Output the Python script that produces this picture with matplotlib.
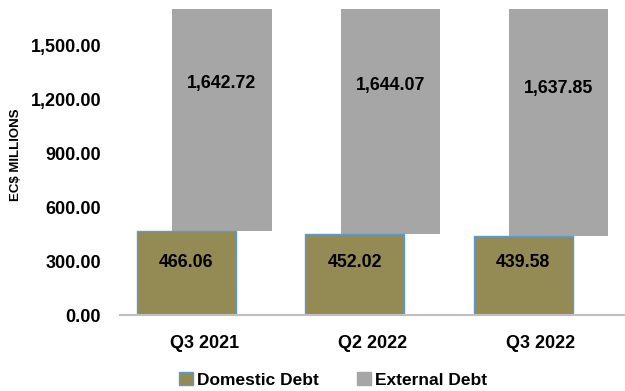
import matplotlib
matplotlib.use("Agg")
import matplotlib.pyplot as plt
import numpy as np
from matplotlib.patches import Patch

plt.rcParams["font.family"] = ["Liberation Sans", "DejaVu Sans"]
plt.rcParams["font.weight"] = "bold"

quarters = ["Q3 2021", "Q2 2022", "Q3 2022"]
domestic_debt = [466.06, 452.02, 439.58]
external_debt = [1642.72, 1644.07, 1637.85]
y_ticks = [0, 300, 600, 900, 1200, 1500]

OLIVE = "#948A54"
GREY = "#A6A6A6"
EDGE_BLUE = "#5B9BD5"

fig = plt.figure(figsize=(6.25, 3.91), dpi=100)
ax = fig.add_axes([0.192, 0.194, 0.808, 0.783])

x = np.arange(len(quarters))
width = 0.59
shift = 0.105

dom = np.array(domestic_debt)
ext = np.array(external_debt)

ax.bar(x - shift, dom, width, color=OLIVE, edgecolor=EDGE_BLUE, linewidth=1.0, zorder=2)
ax.bar(x + shift, ext, width, bottom=dom, color=GREY, edgecolor=GREY, linewidth=0, zorder=1)

# value labels: external centred on the full stacked segment, domestic at a fixed height
for xi, d, e in zip(x, dom, ext):
    ax.text(xi + shift, d + e / 2, f"{e:,.2f}", ha="center", va="center",
            fontsize=12.8, fontweight="bold", zorder=3)
    ax.text(xi - shift, 290, f"{d:,.2f}", ha="center", va="center",
            fontsize=12.8, fontweight="bold", zorder=3)

ax.set_ylim(0, 1700)
ax.set_xlim(-0.5, 2.5)
ax.set_yticks(y_ticks)
ax.set_yticklabels([f"{v:,.2f}" for v in y_ticks], fontsize=13, fontweight="bold")
ax.set_xticks(x)
ax.set_xticklabels(quarters, fontsize=13, fontweight="bold")
ax.tick_params(axis="both", length=0)
ax.tick_params(axis="y", pad=13.5)
ax.tick_params(axis="x", pad=14.5)

for side in ["top", "right", "left"]:
    ax.spines[side].set_visible(False)
ax.spines["bottom"].set_color("#BFBFBF")
ax.spines["bottom"].set_linewidth(1.5)
ax.spines["bottom"].set_zorder(4)

fig.text(0.026, 0.605, "EC$ MILLIONS", rotation=90, ha="center", va="center",
         fontsize=9.5, fontweight="bold")

handles = [Patch(facecolor=OLIVE, edgecolor=EDGE_BLUE, linewidth=1.0),
           Patch(facecolor=GREY, edgecolor=GREY)]
fig.legend(handles, ["Domestic Debt", "External Debt"], loc="center",
           bbox_to_anchor=(0.533, 0.028), ncol=2, frameon=False,
           prop={"size": 12.5, "weight": "bold"}, handlelength=0.8, handleheight=0.8,
           handletextpad=0.25, columnspacing=2.2)

fig.savefig("out.png", dpi=100)
